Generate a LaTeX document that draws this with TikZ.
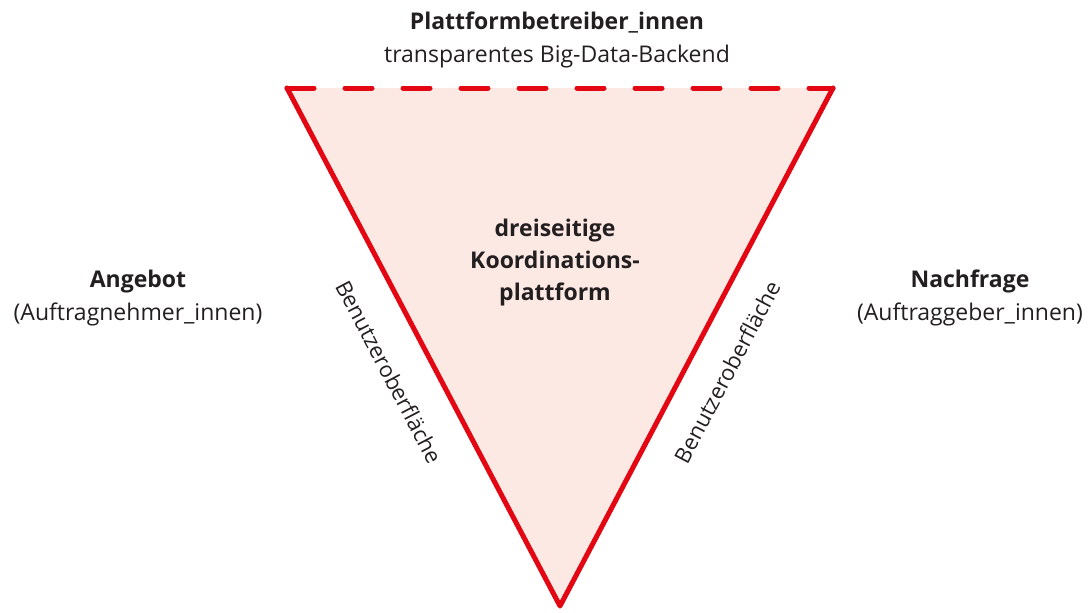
\documentclass[tikz,border=0pt]{standalone}
\usepackage{fontspec}
\setmainfont{Open Sans}
\definecolor{platred}{RGB}{227,6,19}
\definecolor{platfill}{RGB}{252,233,227}
\definecolor{textgray}{RGB}{35,31,32}
\tikzset{
    edgeline/.style={platred,line width=5pt,line cap=round,line join=round},
    sidelabel/.style={font=\fontsize{23}{33}\selectfont,text=textgray,align=center},
    ui/.style={font=\fontsize{22}{26}\selectfont,text=textgray}
}
\begin{document}
\begin{tikzpicture}[x=1pt,y=-1pt]
    \useasboundingbox (0,0) rectangle (1090,613);
    \coordinate (tl) at (287,88);
    \coordinate (tr) at (833,88);
    \coordinate (bt) at (560,606);
    \fill[platfill] (tl) -- (tr) -- (bt) -- cycle;
    \draw[edgeline] (tr) -- (bt) -- (tl);
    \draw[edgeline,dash pattern=on 27pt off 31pt] (tl) -- (tr);
    \node[sidelabel] (betreiber) at (557,40) {\textbf{Plattformbetreiber\_innen}\\transparentes Big-Data-Backend};
    \node[sidelabel] (angebot) at (138,298) {\textbf{Angebot}\\(Auftragnehmer\_innen)};
    \node[sidelabel] (nachfrage) at (970,298) {\textbf{Nachfrage}\\(Auftraggeber\_innen)};
    \node[sidelabel,font=\bfseries\fontsize{23}{32}\selectfont] (plattform) at (555,263) {dreiseitige\\Koordinations-\\plattform};
    \node[ui,rotate=-62.3] (uileft) at (389,372) {Benutzeroberfläche};
    \node[ui,rotate=62.3] (uiright) at (727,372) {Benutzeroberfläche};
\end{tikzpicture}
\end{document}
